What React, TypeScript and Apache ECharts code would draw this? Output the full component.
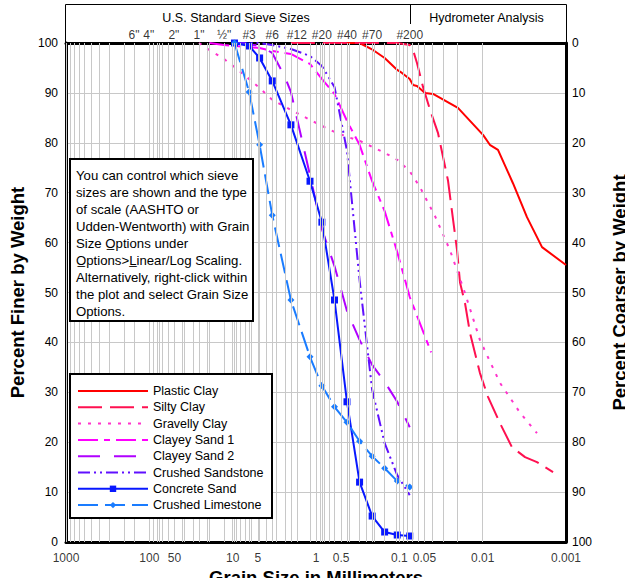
import React, { useEffect, useRef } from "react";
import * as echarts from "echarts";

const FONT = "'Liberation Sans', Arial, sans-serif";

// ---- data ----
const seriesNames = [
  "Plastic Clay",
  "Silty Clay",
  "Gravelly Clay",
  "Clayey Sand 1",
  "Clayey Sand 2",
  "Crushed Sandstone",
  "Concrete Sand",
  "Crushed Limestone",
];
const seriesWithMarkers = ["Concrete Sand", "Crushed Limestone"];

const plasticClay: [number, number][] = [
  [0.425, 100], [0.3, 100], [0.207, 98.6], [0.15, 97], [0.106, 94.6], [0.093, 94],
  [0.075, 92.8], [0.0685, 91.6], [0.0614, 91.4], [0.0492, 90], [0.0394, 89.8],
  [0.0198, 87], [0.0099, 81.6], [0.0082, 79.6], [0.00655, 78.6], [0.00433, 71.9],
  [0.00294, 65.1], [0.00194, 59.1], [0.001, 55.5],
];

const siltyClay: [number, number][] = [
  [2.0, 100], [0.85, 100], [0.425, 100], [0.25, 100], [0.15, 100], [0.106, 100],
  [0.075, 99.6], [0.0685, 98.6], [0.0614, 96], [0.052, 91.2], [0.0428, 86.6],
  [0.0344, 82], [0.0261, 72.5], [0.0203, 58.5], [0.0187, 52], [0.0163, 47.9],
  [0.0142, 41.9], [0.0108, 33.9], [0.00863, 29.1], [0.0062, 23.8], [0.00445, 19],
  [0.0031, 17], [0.00223, 16], [0.00143, 14],
];

const gravellyClay: [number, number][] = [
  [25.4, 100], [19.05, 98.6], [12.7, 96.8], [9.5, 95.2], [4.75, 91], [3.35, 88.6],
  [2.0, 86.6], [1.18, 84.6], [0.85, 83.4], [0.6, 82.2], [0.425, 81.2], [0.3, 80.4],
  [0.212, 79.2], [0.15, 78], [0.106, 76.6], [0.075, 74.3], [0.0565, 71.1],
  [0.0373, 65.3], [0.0247, 58.5], [0.0163, 49.9], [0.0108, 40.5], [0.0062, 31.9],
  [0.00356, 25.9], [0.00223, 21.8],
];

const clayeySand1: [number, number][] = [
  [19.05, 100], [12.7, 99.6], [9.5, 99.4], [4.75, 99], [3.35, 98.4], [2.0, 97.8],
  [1.18, 95.8], [0.85, 92.8], [0.6, 89.8], [0.425, 84.4], [0.3, 79.6], [0.212, 72.3],
  [0.15, 66.3], [0.106, 58.1], [0.075, 49.1], [0.0415, 38],
];

const clayeySand2: [number, number][] = [
  [9.5, 100], [4.75, 99.5], [3.35, 98], [2.36, 93.2], [2.0, 90.2], [1.18, 73.5],
  [0.85, 62.7], [0.6, 55.3], [0.425, 46.3], [0.3, 40.5], [0.212, 35.5], [0.15, 32.1],
  [0.106, 28.1], [0.075, 23],
];

const crushedSandstone: [number, number][] = [
  [9.5, 100], [4.75, 100], [3.35, 99.6], [2.0, 98.8], [1.18, 97.4], [0.85, 95.4],
  [0.6, 91.2], [0.425, 78.4], [0.3, 52.5], [0.212, 30.5], [0.15, 19.8], [0.106, 13.4],
  [0.075, 9.4],
];

const concreteSand: [number, number][] = [
  [9.5, 100], [6.35, 99.4], [4.75, 97], [3.35, 92.4], [2.0, 83.6], [1.18, 72.3],
  [0.85, 64.1], [0.6, 48.5], [0.425, 28.1], [0.3, 12], [0.212, 5.2], [0.15, 2],
  [0.106, 1.4], [0.075, 1.2],
];

const crushedLimestone: [number, number][] = [
  [9.5, 100], [6.35, 90.2], [4.75, 79.6], [3.35, 65.5], [2.0, 48.5], [1.18, 37.1],
  [0.85, 31.3], [0.6, 27.1], [0.425, 24], [0.3, 20.2], [0.212, 17.2], [0.15, 14.8],
  [0.106, 12.2], [0.075, 11],
];

const xTickValues = [1000, 100, 50, 10, 5, 1, 0.5, 0.1, 0.05, 0.01, 0.001];
const xTickLabels = ["1000", "100", "50", "10", "5", "1", "0.5", "0.1", "0.05", "0.01", "0.001"];

const sieveSizes = [152.4, 101.6, 50.8, 25.4, 12.7, 6.35, 3.35, 1.7, 0.85, 0.425, 0.212, 0.075];
const sieveLabels = ['6"', '4"', '2"', '1"', '\u00BD"', "#3", "#6", "#12", "#20", "#40", "#70", "#200"];

const extraGridSizes = [
  152.4, 101.6, 76.2, 50.8, 38.1, 25.4, 19.05, 12.7, 9.525, 6.35, 4.75, 3.35, 2.36,
  1.7, 1.18, 0.85, 0.6, 0.425, 0.3, 0.25, 0.212, 0.15, 0.106, 0.075,
];

const hydrometerBoundary = 0.075;

const noteLines = [
  "You can control which sieve",
  "sizes are shown and the type",
  "of scale (AASHTO or",
  "Udden-Wentworth) with Grain",
  "Size O\u0332ptions under",
  "O\u0332ptions>L\u0332inear/Log Scaling.",
  "Alternatively, right-click within",
  "the plot and select Grain Size",
  "Options.",
];

// ---- helpers ----
const gridValues: number[] = [];
for (let e = -3; e <= 2; e++) {
  for (let k = 1; k <= 9; k++) gridValues.push(k * Math.pow(10, e));
}
gridValues.push(1000);
extraGridSizes.forEach((v) => gridValues.push(v));

function lineSeries(
  name: string,
  data: [number, number][],
  color: string,
  dash: any,
  symbol?: string,
  symbolSize?: number
) {
  return {
    type: "line",
    name,
    data,
    xAxisIndex: 0,
    yAxisIndex: 0,
    z: 3,
    symbol: symbol || "none",
    symbolSize: symbolSize || 4,
    showSymbol: !!symbol,
    lineStyle: { color, width: 2, type: dash },
    itemStyle: { color },
    emphasis: { disabled: true },
  };
}

export default function App() {
  const ref = useRef<HTMLDivElement>(null);
  useEffect(() => {
    const chart = echarts.init(ref.current!, null, { renderer: "svg" });
    const axisLine = { show: true, lineStyle: { color: "#000", width: 3 } };
    const nameStyle = { fontSize: 18.5, fontWeight: "bold", fontFamily: FONT, color: "#000" };
    const option: any = {
      animation: false,
      backgroundColor: "#fff",
      textStyle: { fontFamily: FONT },
      grid: {
        left: 66,
        right: 59,
        top: 43,
        bottom: 36,
        containLabel: false,
        outerBoundsMode: "none",
      },
      xAxis: [
        {
          type: "log",
          logBase: 10,
          min: 0.001,
          max: 1000,
          inverse: true,
          position: "bottom",
          z: 1,
          axisLine,
          axisTick: { show: false },
          axisLabel: { show: false },
          splitLine: { show: false },
          name: "Grain Size in Millimeters",
          nameLocation: "middle",
          nameGap: 26,
          nameTextStyle: nameStyle,
        },
        {
          type: "log",
          logBase: 10,
          min: 0.001,
          max: 1000,
          inverse: true,
          position: "top",
          z: 1,
          axisLine,
          axisTick: { show: false },
          axisLabel: { show: false },
          splitLine: { show: false },
        },
      ],
      yAxis: [
        {
          type: "value",
          min: 0,
          max: 100,
          interval: 10,
          position: "left",
          z: 1,
          axisLine,
          axisTick: { show: false },
          axisLabel: { fontSize: 12, fontFamily: FONT, color: "#000", margin: 8 },
          splitLine: { show: true, lineStyle: { color: "#c8c8c8", width: 1 } },
          name: "Percent Finer by Weight",
          nameLocation: "middle",
          nameGap: 37,
          nameTextStyle: nameStyle,
        },
        {
          type: "value",
          min: 0,
          max: 100,
          interval: 10,
          inverse: true,
          position: "right",
          z: 1,
          axisLine,
          axisTick: { show: false },
          axisLabel: { fontSize: 12, fontFamily: FONT, color: "#000", margin: 6 },
          splitLine: { show: false },
          name: "Percent Coarser by Weight",
          nameLocation: "middle",
          nameGap: 44,
          nameTextStyle: nameStyle,
        },
      ],
      legend: {
        orient: "vertical",
        left: 77,
        top: 384,
        itemWidth: 70,
        itemHeight: 8,
        itemGap: 2.3,
        padding: 0,
        z: 8,
        selectedMode: false,
        data: seriesNames.map((n) =>
          seriesWithMarkers.indexOf(n) >= 0
            ? { name: n }
            : { name: n, itemStyle: { opacity: 0 } }
        ),
        textStyle: { fontSize: 12.5, fontFamily: FONT, color: "#000", lineHeight: 14 },
      },
      series: [
        {
          type: "line",
          name: "__grid",
          data: [],
          xAxisIndex: 0,
          yAxisIndex: 0,
          z: 0,
          silent: true,
          markLine: {
            silent: true,
            symbol: ["none", "none"],
            label: { show: false },
            lineStyle: { color: "#c8c8c8", type: "solid", width: 1 },
            emphasis: { disabled: true },
            data: gridValues.map((v) => ({ xAxis: v })),
          },
        },
        lineSeries("Plastic Clay", plasticClay, "#ff0000", "solid"),
        lineSeries("Silty Clay", siltyClay, "#ff1050", [24, 8]),
        lineSeries("Gravelly Clay", gravellyClay, "#ff33cc", [3, 7]),
        lineSeries("Clayey Sand 1", clayeySand1, "#ff00ff", [20, 6, 6, 6]),
        lineSeries("Clayey Sand 2", clayeySand2, "#b000ff", [22, 14]),
        lineSeries("Crushed Sandstone", crushedSandstone, "#6010ff", [12, 4, 2, 4, 2, 4]),
        lineSeries("Concrete Sand", concreteSand, "#0818ff", "solid", "rect", 7),
        lineSeries("Crushed Limestone", crushedLimestone, "#1a7cff", [20, 7], "diamond", 7),
        {
          type: "scatter",
          name: "__xticks",
          xAxisIndex: 0,
          yAxisIndex: 0,
          z: 4,
          clip: false,
          silent: true,
          symbolSize: 1,
          itemStyle: { color: "rgba(0,0,0,0)" },
          data: xTickValues.map((v, i) => ({ value: [v, 0], name: xTickLabels[i] })),
          label: {
            show: true,
            position: "bottom",
            distance: 9,
            formatter: "{b}",
            fontSize: 12,
            fontFamily: FONT,
            color: "#000",
          },
        },
        {
          type: "scatter",
          name: "__sieves",
          xAxisIndex: 0,
          yAxisIndex: 0,
          z: 4,
          clip: false,
          silent: true,
          symbolSize: 1,
          itemStyle: { color: "rgba(0,0,0,0)" },
          data: sieveSizes.map((v, i) => ({ value: [v, 100], name: sieveLabels[i] })),
          label: {
            show: true,
            position: "top",
            distance: 2,
            formatter: "{b}",
            fontSize: 12,
            fontFamily: FONT,
            color: "#000",
          },
        },
      ],
    };
    chart.setOption(option);

    const divX = Math.round(chart.convertToPixel({ xAxisIndex: 0 }, hydrometerBoundary) as number) + 0.5;
    const leftX = 65.5;
    const rightX = 566.5;
    chart.setOption({
      graphic: [
        {
          type: "polyline",
          z: 10,
          silent: true,
          shape: { points: [[leftX, 43], [leftX, 4.5], [rightX, 4.5], [rightX, 43]] },
          style: { stroke: "#000", lineWidth: 1, fill: "none" },
        },
        {
          type: "line",
          z: 10,
          silent: true,
          shape: { x1: divX, y1: 4, x2: divX, y2: 24 },
          style: { stroke: "#000", lineWidth: 1 },
        },
        {
          type: "text",
          z: 10,
          silent: true,
          x: (leftX + divX) / 2 - 2,
          y: 18,
          style: {
            text: "U.S. Standard Sieve Sizes",
            fontSize: 12.5,
            fontFamily: FONT,
            fill: "#000",
            align: "center",
            verticalAlign: "middle",
          },
        },
        {
          type: "text",
          z: 10,
          silent: true,
          x: (divX + rightX) / 2 - 2,
          y: 18,
          style: {
            text: "Hydrometer Analysis",
            fontSize: 12.5,
            fontFamily: FONT,
            fill: "#000",
            align: "center",
            verticalAlign: "middle",
          },
        },
        {
          type: "rect",
          z: 6,
          silent: true,
          shape: { x: 70, y: 159, width: 183, height: 162 },
          style: { fill: "#fff", stroke: "#000", lineWidth: 2 },
        },
        {
          type: "text",
          z: 7,
          silent: true,
          x: 76,
          y: 167,
          style: {
            text: noteLines.join("\n"),
            fontSize: 13.2,
            fontFamily: FONT,
            lineHeight: 17,
            fill: "#000",
            align: "left",
            verticalAlign: "top",
          },
        },
        {
          type: "rect",
          z: 6,
          silent: true,
          shape: { x: 70, y: 374, width: 202, height: 144 },
          style: { fill: "#fff", stroke: "#000", lineWidth: 2 },
        },
      ],
    });
    return () => chart.dispose();
  }, []);
  return (
    <div
      ref={ref}
      style={{ position: "fixed", left: 0, top: 0, width: 625, height: 578, background: "#fff" }}
    />
  );
}
